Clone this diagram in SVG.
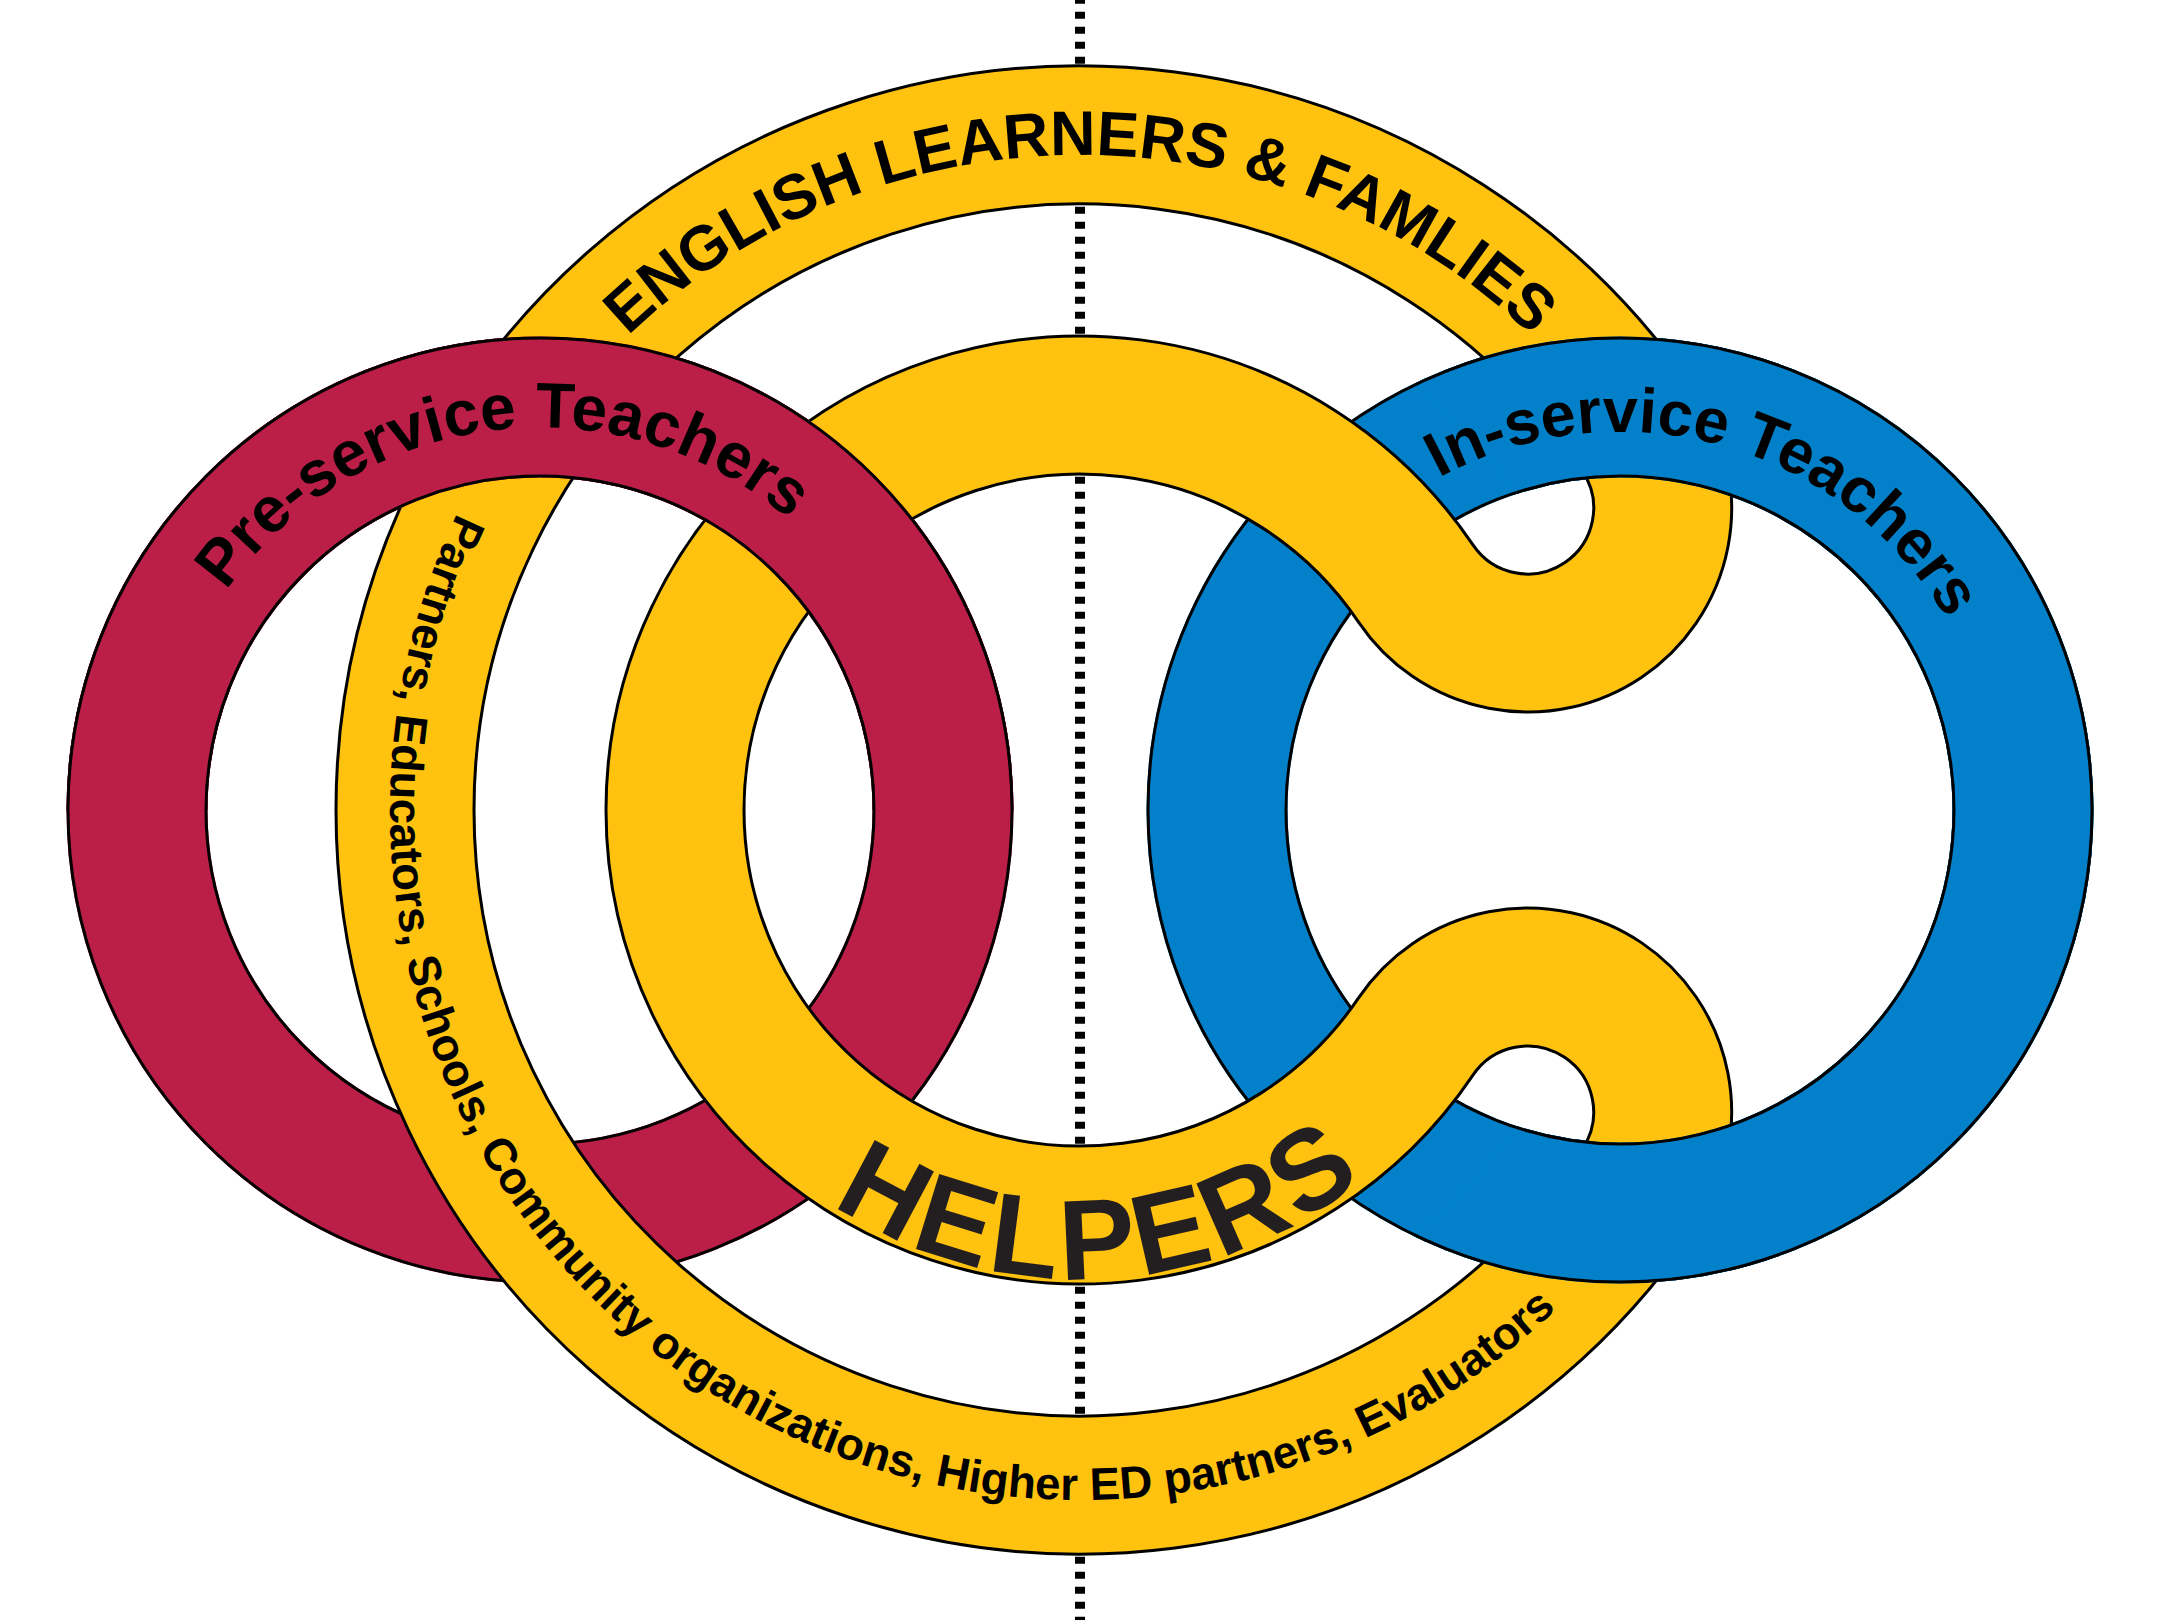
<svg xmlns="http://www.w3.org/2000/svg" width="2160" height="1620" viewBox="0 0 2160 1620">
<style>
.edge{fill:none;stroke:#000;stroke-width:3}
.red{fill:none;stroke:#BB1F48;stroke-width:141}
.blue{fill:none;stroke:#0281CA;stroke-width:141}
.yedge{fill:none;stroke:#000;stroke-width:141;stroke-linejoin:round}
.yel{fill:none;stroke:#FFC20E;stroke-width:135;stroke-linejoin:round}
.lbl{font-family:"Liberation Sans",Arial,Helvetica,sans-serif;font-weight:bold;fill:#000}
</style>
<defs>
<clipPath id="topHalf"><rect x="0" y="0" width="2160" height="810"/></clipPath>
<clipPath id="outsideA"><path clip-rule="evenodd" d="M0 0H2160V1620H0Z M1620 810A540 540 0 1 0 540 810A540 540 0 1 0 1620 810Z"/></clipPath>
<path id="pEnglish" d="M425 810A655 655 0 0 1 1735 810"/>
<path id="pPre" d="M158.3 841.4A383 383 0 0 1 917.5 745.5"/>
<path id="pIn" d="M1260.7 692.6A378 378 0 0 1 1988.2 895.7"/>
<path id="pHelpers" d="M632 853.5A449 449 0 0 0 1529 806"/>
<path id="pPartners" d="M599.8 314.5A690 690 0 1 0 1700.7 1111.4"/>
</defs>

<g id="axis">
<line x1="1080" y1="0" x2="1080" y2="1620" stroke="#000" stroke-width="10" stroke-dasharray="7 8" stroke-dashoffset="3.3"/>
</g>

<g id="preservice-ring">
<circle cx="540" cy="810" r="403" class="red"/>
<circle cx="540" cy="810" r="334" class="edge"/>
<circle cx="540" cy="810" r="472" class="edge"/>
</g>

<g id="inservice-ring">
<circle cx="1620" cy="810" r="403" class="blue"/>
<circle cx="1620" cy="810" r="334" class="edge"/>
<circle cx="1620" cy="810" r="472" class="edge"/>
</g>

<g id="helpers-band">
<path class="yedge" d="M1639.6 432.54A675 675 0 1 0 1639.6 1187.46A135 135 0 0 0 1415.76 1036.47A405 405 0 1 1 1415.76 583.53A135 135 0 0 0 1639.6 432.54Z"/>
<path class="yel" d="M1639.6 432.54A675 675 0 1 0 1639.6 1187.46A135 135 0 0 0 1415.76 1036.47A405 405 0 1 1 1415.76 583.53A135 135 0 0 0 1639.6 432.54Z"/>
</g>

<g id="overlaps">
<use href="#preservice-ring" clip-path="url(#topHalf)"/>
<use href="#inservice-ring" clip-path="url(#outsideA)"/>
</g>

<g id="labels">
<g id="label-english"><text class="lbl" font-size="63"><textPath href="#pEnglish" startOffset="50%" text-anchor="middle">ENGLISH LEARNERS &amp; FAMLIES</textPath></text></g>
<g id="label-preservice"><text class="lbl" font-size="64"><textPath href="#pPre" startOffset="50%" text-anchor="middle">Pre-service Teachers</textPath></text></g>
<g id="label-inservice"><text class="lbl" font-size="63"><textPath href="#pIn" startOffset="50%" text-anchor="middle">In-service Teachers</textPath></text></g>
<g id="label-helpers"><text class="lbl" font-size="114" letter-spacing="5" style="fill:#231F20"><textPath href="#pHelpers" startOffset="50%" text-anchor="middle">HELPERS</textPath></text></g>
<g id="label-partners"><text class="lbl" font-size="45.5"><textPath href="#pPartners" startOffset="50%" text-anchor="middle">Partners, Educators, Schools, Community organizations, Higher ED partners, Evaluators</textPath></text></g>
</g>
</svg>
